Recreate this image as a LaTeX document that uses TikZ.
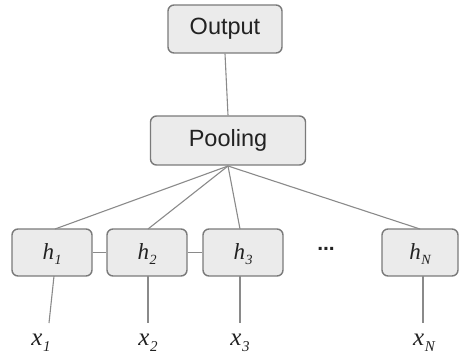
\documentclass[tikz,border=0pt]{standalone}
\usepackage{fontspec}
\setmainfont{Liberation Serif}
\newfontfamily\boxfont{Liberation Sans}
\newcommand\hlab[2]{{\fontsize{23}{26}\selectfont\itshape #1\kern0.5pt\raisebox{-5pt}{\fontsize{14}{14}\selectfont #2}}}
\newcommand\xlab[2]{{\fontsize{25}{30}\selectfont\itshape #1\kern0.5pt\raisebox{-6pt}{\fontsize{15}{15}\selectfont #2}}}
\begin{document}
\begin{tikzpicture}[x=1pt,y=-1pt,
  box/.style={draw=boxline, fill=boxfill, line width=1.4pt, rounded corners=6pt, inner sep=0pt, text=txt},
  conn/.style={draw=connline, line width=1.1pt},
  lbl/.style={inner sep=0pt, text=txt}]
\definecolor{boxline}{HTML}{7A7A7A}
\definecolor{boxfill}{HTML}{EBEBEB}
\definecolor{connline}{HTML}{8A8A8A}
\definecolor{txt}{HTML}{222222}
\useasboundingbox (0,0) rectangle (460,359);
\node[box, minimum width=114pt, minimum height=48pt, font=\boxfont\fontsize{23.5}{28}\selectfont] (out) at (225,29) {Output};
\node[box, minimum width=155pt, minimum height=49pt, font=\boxfont\fontsize{23.5}{28}\selectfont] (pool) at (228,140.5) {Pooling};
\node[box, minimum width=80pt, minimum height=47pt] (h1) at (52,252.5) {};
\node[box, minimum width=80pt, minimum height=47pt] (h2) at (147,252.5) {};
\node[box, minimum width=80pt, minimum height=47pt] (h3) at (243,252.5) {};
\node[box, minimum width=76pt, minimum height=47pt] (hN) at (420,252.5) {};
\node[lbl] at (52,254) {\hlab{h}{1}};
\node[lbl] at (147,254) {\hlab{h}{2}};
\node[lbl] at (243,254) {\hlab{h}{3}};
\node[lbl] at (420,254) {\hlab{h}{N}};
\node[lbl, font=\boxfont\bfseries\fontsize{21}{24}\selectfont] (dots) at (326,249) {...};
\node[lbl] (x1) at (41,343) {\xlab{x}{1}};
\node[lbl] (x2) at (148,343) {\xlab{x}{2}};
\node[lbl] (x3) at (240,343) {\xlab{x}{3}};
\node[lbl] (xN) at (424,343) {\xlab{x}{N}};
\coordinate (pc) at (228,166);
\draw[conn] (out.south) -- (pool.north);
\draw[conn] (pc) -- (55,229);
\draw[conn] (pc) -- (148,229);
\draw[conn] (pc) -- (240,229);
\draw[conn] (pc) -- (420,229);
\draw[conn] (h1) -- (h2);
\draw[conn] (h2) -- (h3);
\draw[conn] (54,276) -- (49,323);
\draw[conn] (148,276) -- (148,323);
\draw[conn] (240,276) -- (240,323);
\draw[conn] (423,276) -- (423,323);
\end{tikzpicture}
\end{document}
